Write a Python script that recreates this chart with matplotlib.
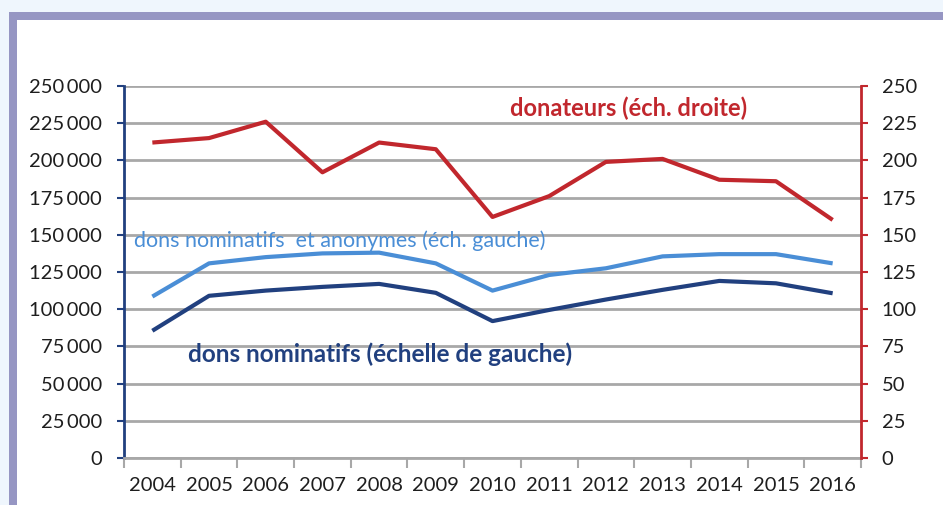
import numpy as np
import matplotlib.pyplot as plt
from matplotlib.patches import Rectangle
from matplotlib.ticker import FuncFormatter

plt.rcParams['font.family'] = ['Lato', 'DejaVu Sans']

years = ['2004', '2005', '2006', '2007', '2008', '2009', '2010',
         '2011', '2012', '2013', '2014', '2015', '2016']
# donateurs, en milliers (echelle de droite)
donateurs = [212, 215, 226, 192, 212, 207.5, 162, 176, 199, 201, 187, 186, 160]
# dons nominatifs et anonymes (echelle de gauche)
dons_tous = [108500, 130800, 135000, 137500, 138000, 130800, 112500,
             123000, 127500, 135500, 137000, 137000, 130800]
# dons nominatifs (echelle de gauche)
dons_nomin = [85500, 109000, 112500, 115000, 117000, 111000, 92000,
              99500, 106500, 113000, 119000, 117400, 110700]

red = '#C1272D'
lblue = '#4A8ED6'
dblue = '#21407F'
grid = '#A8A8A8'
txt = '#1E1E1E'

fig = plt.figure(figsize=(9.43, 5.05), dpi=100)
fig.patch.set_facecolor('#EFF6FD')
W, H = 943, 505
fig.patches.append(Rectangle((9 / W, 0), 1 - 9 / W, 1 - 12 / H, transform=fig.transFigure,
                             facecolor='#9696C3', edgecolor='none', zorder=-10))
fig.patches.append(Rectangle((17 / W, 0), 1 - 17 / W, 1 - 20 / H, transform=fig.transFigure,
                             facecolor='white', edgecolor='none', zorder=-9))

ax = fig.add_axes([124 / W, 47 / H, (861 - 124) / W, (458 - 86) / H])
ax.set_facecolor('none')
x = np.arange(len(years))

ax.set_xlim(-0.5, len(years) - 0.5)
ax.set_ylim(0, 250000)
ax.set_yticks(np.arange(0, 250001, 25000))
ax.yaxis.set_major_formatter(FuncFormatter(lambda v, p: f'{int(v):,}'.replace(',', '\u2009')))
ax.grid(axis='y', color=grid, lw=2, zorder=1)
ax.set_xticks(x)
ax.set_xticklabels(years)
ax.set_xticks(np.arange(-0.5, len(years), 1), minor=True)
ax.tick_params(axis='x', which='major', length=0, pad=14, labelsize=14.5, labelcolor=txt)
ax.tick_params(axis='x', which='minor', length=7, width=1.5, color=grid)
ax.tick_params(axis='y', length=5, width=1.5, color=dblue, labelsize=14.5, labelcolor=txt, pad=11)
for s in ['top', 'right']:
    ax.spines[s].set_visible(False)
ax.spines['bottom'].set_color(grid)
ax.spines['bottom'].set_linewidth(2)
ax.spines['left'].set_color(dblue)
ax.spines['left'].set_linewidth(2)

ax.plot(x, dons_tous, color=lblue, lw=3, zorder=3, solid_capstyle='butt')
ax.plot(x, dons_nomin, color=dblue, lw=3, zorder=3, solid_capstyle='butt')

ax2 = ax.twinx()
ax2.set_ylim(0, 250)
ax2.set_yticks(np.arange(0, 251, 25))
ax2.plot(x, donateurs, color=red, lw=3, zorder=3, solid_capstyle='butt')
for s in ['top', 'left', 'bottom']:
    ax2.spines[s].set_visible(False)
ax2.spines['right'].set_color(red)
ax2.spines['right'].set_linewidth(2)
ax2.tick_params(axis='y', length=5, width=1.5, color=red, labelsize=14.5, labelcolor=txt, pad=10)

ax.text(6.31, 235000, 'donateurs (éch. droite)', color=red, fontsize=17,
        fontweight='bold', ha='left', va='center')
ax.text(-0.32, 146000, 'dons nominatifs  et anonymes (éch. gauche)', color=lblue,
        fontsize=15.5, ha='left', va='center')
ax.text(0.63, 70000, 'dons nominatifs (échelle de gauche)', color=dblue, fontsize=17.5,
        fontweight='bold', ha='left', va='center')

fig.savefig('out.png', dpi=100, facecolor=fig.get_facecolor())
